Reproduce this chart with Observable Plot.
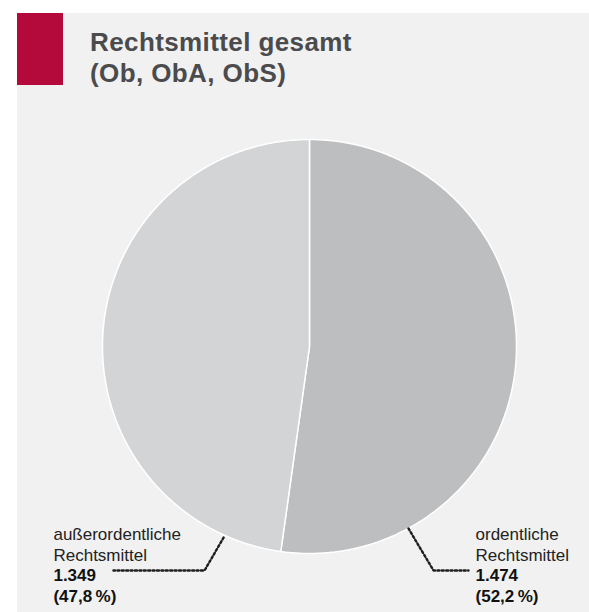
<!DOCTYPE html>
<html>
<head>
<meta charset="utf-8">
<script src="https://cdn.jsdelivr.net/npm/d3@7"></script>
<script src="https://cdn.jsdelivr.net/npm/@observablehq/plot@0.6"></script>
<style>
  html, body { margin: 0; padding: 0; background: #ffffff; }
  #wrap { position: relative; width: 589px; height: 612px; overflow: hidden; font-family: "Liberation Sans", Arial, sans-serif; }
  #panel { position: absolute; left: 17px; top: 13px; right: 0; bottom: 0; background: #f1f1f1; }
  #mark { position: absolute; left: 17px; top: 13px; width: 46px; height: 72px; background: #b3093b; }
  #title { position: absolute; left: 90px; top: 27px; font-weight: bold; font-size: 26px; line-height: 31px; letter-spacing: 0.4px; color: #4b4b4d; white-space: nowrap; }
  #chart { position: absolute; left: 0; top: 0; }
</style>
</head>
<body>
<div id="wrap">
  <div id="panel"></div>
  <div id="mark"></div>
  <div id="title">Rechtsmittel gesamt<br>(Ob, ObA, ObS)</div>
  <div id="chart"></div>
</div>
<script>
// ---- data ----
const categories = ["ordentliche Rechtsmittel", "außerordentliche Rechtsmittel"];
const nameLines = ["ordentliche\nRechtsmittel", "außerordentliche\nRechtsmittel"];
const values = [1474, 1349];
const valueLabels = ["1.474", "1.349"];
const shareLabels = ["(52,2\u2009%)", "(47,8\u2009%)"];
const sliceColors = ["#bdbec0", "#d3d4d6"];

// ---- layout (annotation placement in pie units, radius = 1) ----
const labelX = [0.802, -1.237];
const nameY = -0.864;
const numberY = -1.062;
const leaders = [
  [[0.478, -0.879], [0.599, -1.082], [0.768, -1.082]],
  [[-0.415, -0.923], [-0.507, -1.082], [-0.947, -1.082]]
];

// ---- build slices from the values ----
const arcs = d3.pie().sort(null).startAngle(0).endAngle(2 * Math.PI)(values);
const slicePts = [];
arcs.forEach((a, i) => {
  const name = categories[i];
  slicePts.push({name, x: 0, y: 0});
  const n = Math.max(2, Math.ceil((a.endAngle - a.startAngle) / (Math.PI / 360)));
  for (let k = 0; k <= n; k++) {
    const t = a.startAngle + (a.endAngle - a.startAngle) * k / n;
    slicePts.push({name, x: Math.sin(t), y: Math.cos(t)});
  }
  slicePts.push({name, x: 0, y: 0});
});

const leaderPts = leaders.flatMap((pts, i) => pts.map(([x, y]) => ({g: categories[i], x, y})));
const labels = categories.map((c, i) => ({
  c, x: labelX[i], name: nameLines[i], num: valueLabels[i] + "\n" + shareLabels[i]
}));

const chart = Plot.plot({
  width: 589,
  height: 612,
  margin: 0,
  x: {domain: [-1, 1], range: [102, 516], axis: null},
  y: {domain: [-1, 1], range: [553, 139], axis: null},
  color: {domain: categories, range: sliceColors},
  style: {background: "transparent", fontFamily: "Liberation Sans, Arial, sans-serif", overflow: "visible"},
  marks: [
    Plot.line(slicePts, {x: "x", y: "y", z: "name", fill: "name", stroke: "#ffffff", strokeWidth: 1.5, strokeLinejoin: "round", curve: "linear"}),
    Plot.line(leaderPts, {x: "x", y: "y", z: "g", stroke: "#1e1e1e", strokeWidth: 2.4, strokeDasharray: "2,2.4", strokeLinejoin: "miter", curve: "linear"}),
    Plot.text(labels, {x: "x", y: () => nameY, text: "name", textAnchor: "start", lineAnchor: "top", lineHeight: 1.235, fontSize: 17, fill: "#222222"}),
    Plot.text(labels, {x: "x", y: () => numberY, text: "num", textAnchor: "start", lineAnchor: "top", lineHeight: 1.235, fontSize: 17, fontWeight: "bold", fill: "#111111"})
  ]
});
document.getElementById("chart").appendChild(chart);
</script>
</body>
</html>
